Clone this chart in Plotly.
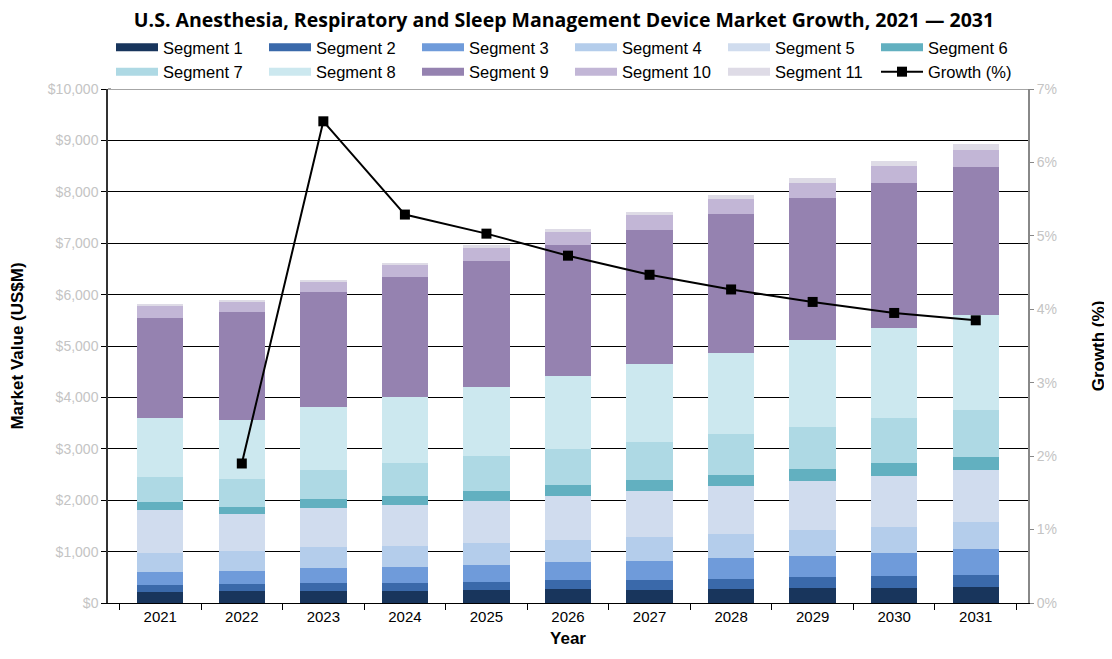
import plotly.graph_objects as go

years = ["2021", "2022", "2023", "2024", "2025", "2026", "2027", "2028", "2029", "2030", "2031"]

seg1 = [207, 227, 227, 239, 246, 266, 259, 278, 292, 292, 317]
seg2 = [150, 136, 156, 156, 169, 175, 195, 195, 214, 233, 233]
seg3 = [253, 266, 292, 311, 331, 350, 370, 409, 409, 447, 506]
seg4 = [370, 389, 409, 409, 428, 441, 467, 467, 506, 506, 525]
seg5 = [823, 706, 759, 798, 817, 856, 895, 934, 953, 992, 1012]
seg6 = [169, 150, 175, 175, 195, 214, 214, 214, 233, 253, 253]
seg7 = [486, 545, 578, 642, 681, 700, 739, 798, 817, 875, 914]
seg8 = [1148, 1148, 1212, 1284, 1342, 1420, 1518, 1576, 1693, 1751, 1848]
seg9 = [1946, 2088, 2237, 2335, 2451, 2549, 2607, 2704, 2763, 2821, 2879]
seg10 = [220, 208, 208, 233, 253, 253, 292, 292, 292, 331, 331]
seg11 = [39, 39, 39, 39, 58, 58, 58, 78, 97, 91, 117]

growth = [None, 1.90, 6.56, 5.29, 5.03, 4.73, 4.47, 4.27, 4.10, 3.95, 3.85]

segments = [seg1, seg2, seg3, seg4, seg5, seg6, seg7, seg8, seg9, seg10, seg11]
seg_names = ["Segment %d" % (i + 1) for i in range(11)]
seg_colors = ["#18355c", "#3a69aa", "#6f9bda", "#b4cdeb", "#d0dcee", "#62b0c0",
              "#aed9e4", "#cce8ef", "#9582b0", "#c2b6d6", "#dedbe6"]

font_name = "Liberation Sans, Arial, sans-serif"

fig = go.Figure()

for name, vals, col in zip(seg_names, segments, seg_colors):
    fig.add_trace(go.Bar(
        x=years, y=vals, name=name, legendgroup=name, showlegend=False,
        marker=dict(color=col, line=dict(width=0)),
        yaxis="y",
    ))
    # wide swatch for the legend, like the original
    fig.add_trace(go.Scatter(
        x=[None], y=[None], name=name, legendgroup=name, mode="lines",
        line=dict(color=col, width=8), hoverinfo="skip",
    ))

fig.add_trace(go.Scatter(
    x=years, y=growth, name="Growth (%)", mode="lines+markers",
    line=dict(color="black", width=2),
    marker=dict(symbol="square", size=10, color="black"),
    yaxis="y2",
))

fig.update_layout(
    barmode="stack",
    bargap=0.43,
    width=1112, height=659,
    paper_bgcolor="white", plot_bgcolor="white",
    font=dict(family=font_name, size=14, color="black"),
    margin=dict(l=100, r=92, t=81, b=64),
    title=dict(
        text="<b>U.S. Anesthesia, Respiratory and Sleep Management Device Market Growth, 2021 — 2031</b>",
        x=0.5, xanchor="center", y=1 - 12 / 659, yanchor="middle", yref="container",
        font=dict(size=19.5, family="Open Sans, sans-serif"),
    ),
    legend=dict(
        orientation="h", x=103 / 1112, xanchor="left", xref="container",
        y=1 - 22 / 659, yanchor="top", yref="container",
        entrywidth=96, entrywidthmode="pixels",
        font=dict(size=16.5), itemwidth=42, tracegroupgap=0,
        traceorder="normal",
    ),
    xaxis=dict(
        title=dict(text="<b>Year</b>", standoff=8),
        tickfont=dict(size=15),
        showline=True, linecolor="black", linewidth=1,
        ticks="outside", tickson="boundaries", ticklen=6, tickcolor="black",
        showgrid=False, automargin=False,
    ),
    yaxis=dict(
        title=dict(text="<b>Market Value (US$M)</b>", standoff=33),
        range=[0, 10000], dtick=1000, tickprefix="$", tickformat=",d",
        tickfont=dict(color="#c4c4c4", size=14),
        showline=True, linecolor="#333333", linewidth=1.5,
        ticks="outside", ticklen=5, tickcolor="black",
        showgrid=True, gridcolor="black", gridwidth=1,
        zeroline=False, automargin=False,
    ),
    yaxis2=dict(
        title=dict(text="<b>Growth (%)</b>", standoff=36),
        overlaying="y", side="right",
        range=[0, 7], dtick=1, ticksuffix="%",
        tickfont=dict(color="#c4c4c4", size=14),
        showline=True, linecolor="#888888", linewidth=2,
        ticks="outside", ticklen=4, tickcolor="#888888",
        showgrid=False, zeroline=False, automargin=False,
    ),
    shapes=[dict(type="line", xref="paper", yref="paper", x0=0, x1=1, y0=1, y1=1,
                 line=dict(color="#888888", width=1.5))],
)

fig.write_html("out.html")
